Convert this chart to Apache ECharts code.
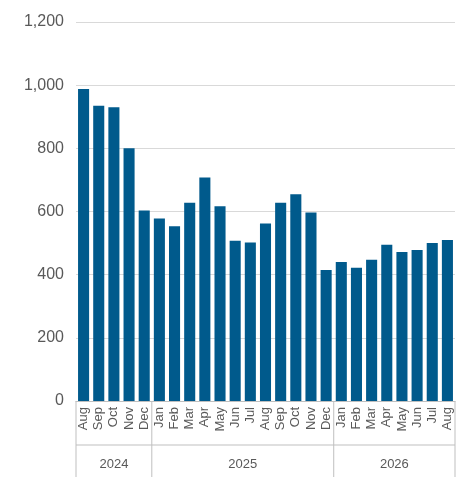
<!DOCTYPE html>
<html><head><meta charset="utf-8">
<script src="https://cdn.jsdelivr.net/npm/echarts@6/dist/echarts.min.js"></script>
<style>html,body{margin:0;padding:0;background:#fff}#c{width:473px;height:484px}</style>
</head><body><div id="c"></div>
<script>
const months = ["Aug","Sep","Oct","Nov","Dec","Jan","Feb","Mar","Apr","May","Jun","Jul","Aug","Sep","Oct","Nov","Dec","Jan","Feb","Mar","Apr","May","Jun","Jul","Aug"];
const values = [988,935,930,800,603,578,553,628,708,617,507,502,562,628,655,597,415,440,422,447,495,472,478,500,510];
const years = ["2024","2025","2026"];
const yearStart = [0,5,17];
const yearEnd = [4,16,24];

const chart = echarts.init(document.getElementById('c'));
chart.setOption({
  animation:false,
  grid:{left:76,right:18,top:22,bottom:83},
  xAxis:{type:'category',data:months,
    axisLine:{lineStyle:{color:'#bfbfbf'}},axisTick:{show:false},
    axisLabel:{rotate:90,color:'#595959',fontSize:13,fontFamily:'Liberation Sans, Arial',interval:0,margin:6}},
  yAxis:{type:'value',min:0,max:1200,interval:200,
    axisLabel:{color:'#595959',fontSize:16,fontFamily:'Liberation Sans, Arial',margin:12,
      formatter:v=>v.toLocaleString('en-US')},
    splitLine:{lineStyle:{color:'#d9d9d9'}},axisLine:{show:false},axisTick:{show:false}},
  series:[{type:'bar',data:values,barCategoryGap:'27%',itemStyle:{color:'#005a8c'}}]
});
const y0 = chart.convertToPixel({yAxisIndex:0},0);
const half = (chart.convertToPixel({xAxisIndex:0},1)-chart.convertToPixel({xAxisIndex:0},0))/2;
const g = [];
const lc = '#bfbfbf';
const bounds = [chart.convertToPixel({xAxisIndex:0},0)-half];
yearEnd.forEach(e=>bounds.push(chart.convertToPixel({xAxisIndex:0},e)+half));
bounds.forEach(x=>g.push({type:'line',shape:{x1:x,y1:y0,x2:x,y2:y0+76},style:{stroke:lc,lineWidth:1}}));
g.push({type:'line',shape:{x1:bounds[0],y1:y0+44,x2:bounds[bounds.length-1],y2:y0+44},style:{stroke:lc,lineWidth:1}});
years.forEach((yr,i)=>{
  const cx=(chart.convertToPixel({xAxisIndex:0},yearStart[i])+chart.convertToPixel({xAxisIndex:0},yearEnd[i]))/2;
  g.push({type:'text',x:cx,y:y0+63,style:{text:yr,fill:'#595959',font:'13px Liberation Sans, Arial',align:'center',verticalAlign:'middle'}});
});
chart.setOption({graphic:g});
</script></body></html>
